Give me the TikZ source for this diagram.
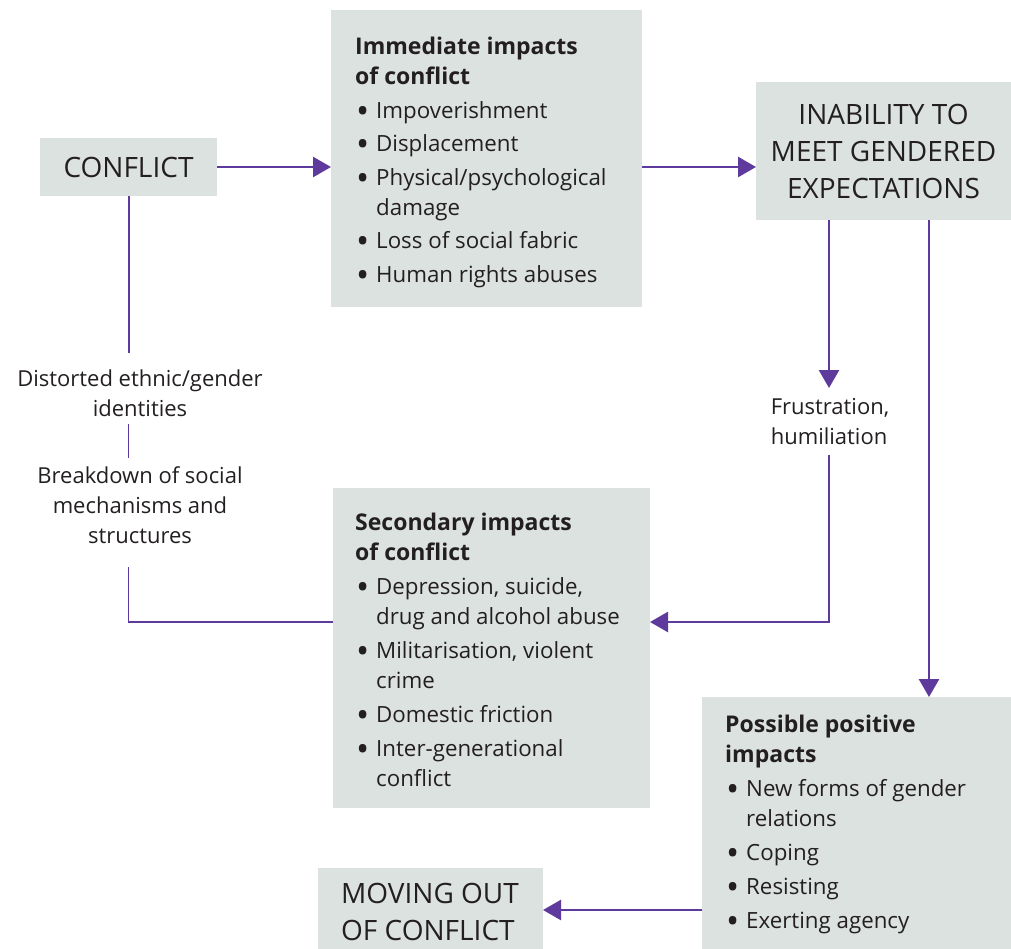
\documentclass[tikz,border=0pt]{standalone}
\usepackage{fontspec}
\setmainfont{Open Sans}
\usetikzlibrary{arrows.meta}
\definecolor{boxgray}{HTML}{DCE2E0}
\definecolor{pur}{HTML}{5E3A9C}
\definecolor{ink}{HTML}{231F20}
\newcommand\bul{\makebox[21pt][l]{\hspace{1pt}\raisebox{-5pt}{\fontsize{35}{35}\selectfont\textbullet}}}
\newcommand\ind{\hspace*{21pt}}
\newcommand\ttl[1]{{\fontsize{23}{30}\selectfont\bfseries #1}}
\begin{document}
\begin{tikzpicture}[x=1pt,y=-1pt,
  box/.style={fill=boxgray, draw=none, inner sep=0pt, outer sep=0pt},
  body/.style={font=\fontsize{22.3}{30}\selectfont, text=ink, align=left, inner sep=0pt, anchor=north west},
  lab/.style={font=\fontsize{22}{30}\selectfont, text=ink, align=center, inner sep=0pt},
  big/.style={font=\fontsize{28}{37}\selectfont, text=ink, align=center, inner sep=0pt},
  arr/.style={draw=pur, line width=2.6pt, -{Triangle[length=18pt,width=20pt]}},
  stem/.style={draw=pur, line width=2pt},
  thinline/.style={draw=pur, line width=1.4pt}]
\useasboundingbox (0,0) rectangle (1011,949);
% boxes
\node[box, minimum width=177, minimum height=58] (conf) at (128.5,167) {};
\node[big] (conft) at (conf) {CONFLICT};
\node[box, minimum width=311, minimum height=297] (imm) at (486.5,158.5) {};
\node[box, minimum width=255, minimum height=138] (inab) at (883.5,151) {};
\node[big] (inabt) at (inab) {INABILITY TO\\MEET GENDERED\\EXPECTATIONS};
\node[box, minimum width=317, minimum height=320] (sec) at (491.5,648) {};
\node[box, minimum width=309, minimum height=252] (pos) at (856.5,823) {};
\node[box, minimum width=225, minimum height=81] (mov) at (430.5,908.5) {};
\node[big, align=left] (movt) at (430,912) {MOVING OUT\\OF CONFLICT};
% box texts
\node[body] (immt) at (355,37) {\ttl{Immediate impacts}\\\ttl{of conflict}\\[3.5pt]
\bul Impoverishment\\[3.5pt]
\bul Displacement\\[3.5pt]
\bul Physical/psychological\\\ind damage\\[3.5pt]
\bul Loss of social fabric\\[3.5pt]
\bul Human rights abuses};
\node[body] (sect) at (355,513) {\ttl{Secondary impacts}\\\ttl{of conflict}\\[4pt]
\bul Depression, suicide,\\\ind drug and alcohol abuse\\[4pt]
\bul Militarisation, violent\\\ind crime\\[4pt]
\bul Domestic friction\\[4pt]
\bul Inter-generational\\\ind conflict};
\node[body] (post) at (725,715) {\ttl{Possible positive}\\\ttl{impacts}\\[4pt]
\bul New forms of gender\\\ind relations\\[4pt]
\bul Coping\\[4pt]
\bul Resisting\\[4pt]
\bul Exerting agency};
% labels
\node[lab] (dist) at (140,393) {Distorted ethnic/gender\\identities};
\node[lab] (brk) at (140,505) {Breakdown of social\\mechanisms and\\structures};
\node[lab, align=left] (frus) at (830,422) {Frustration,\\humiliation};
% helper coordinates
\coordinate (y353) at (0,353);
\coordinate (y424) at (0,424);
\coordinate (y458) at (0,458);
\coordinate (y567) at (0,567);
\coordinate (y622) at (0,622);
\coordinate (y388) at (0,388);
\coordinate (y455) at (0,455);
\coordinate (y910) at (0,910);
\coordinate (x829) at (829,0);
\coordinate (x929) at (929,0);
% connectors
\draw[arr] (conf.east) -- (conf.east -| imm.west);
\draw[arr] (conf.east -| imm.east) -- (conf.east -| inab.west);
\draw[arr] (inab.south -| x829) -- (x829 |- y388);
\draw[arr] (x829 |- y455) |- (sec.east |- y622);
\draw[arr] (inab.south -| x929) -- (pos.north -| x929);
\draw[arr] (pos.west |- y910) -- (mov.east |- y910);
\draw[stem] (conf.south) -- (conf.south |- y353);
\draw[thinline] (conf.south |- y424) -- (conf.south |- y458);
\draw[thinline] (conf.south |- y567) |- (sec.west |- y622);
\end{tikzpicture}
\end{document}
